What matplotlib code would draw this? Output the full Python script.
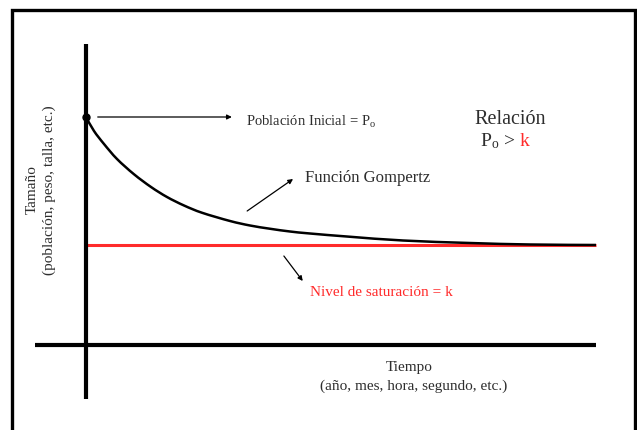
import matplotlib
matplotlib.use("Agg")
import matplotlib.pyplot as plt
from matplotlib.patches import Rectangle, PathPatch
from matplotlib.path import Path

plt.rcParams['font.family'] = ['Liberation Serif', 'DejaVu Serif']
plt.rcParams['mathtext.fontset'] = 'custom'
plt.rcParams['mathtext.rm'] = 'Liberation Serif'

# Data (time units, size units)
t_curve = [0.0, 0.157, 0.353, 0.608, 0.941, 1.275, 1.588, 1.922, 2.275, 2.824,
           3.216, 3.608, 4.0, 4.392, 5.176, 6.216, 7.53, 8.71, 10.0]
p_curve = [9.12, 8.56, 8.04, 7.44, 6.83, 6.32, 5.92, 5.58, 5.29, 4.96,
           4.78, 4.65, 4.54, 4.46, 4.33, 4.18, 4.08, 4.02, 4.0]
P0 = 9.12
k = 4.0
t_max = 10.0

label_p0 = "Población Inicial = $\\mathrm{P_o}$"
label_fun = "Función Gompertz"
label_k = "Nivel de saturación = k"
label_rel = "Relación"
ylabel_lines = ["Tamaño", "(población, peso, talla, etc.)"]
xlabel_lines = ["Tiempo", "(año, mes, hora, segundo, etc.)"]

TXT = '#2e2e2e'
RED = '#ff2b2b'

fig = plt.figure(figsize=(6.37, 4.31), dpi=100)
ax = fig.add_axes([0, 0, 1, 1])
ax.set_xlim(-86 / 51, (637 - 86) / 51)
ax.set_ylim((346 - 431) / 25, 346 / 25)
ax.axis('off')

# outer frame
fig.patches.append(Rectangle((11.5 / 637, -0.05), (634.5 - 11.5) / 637, 1.05 - 11 / 431,
                             transform=fig.transFigure, fill=False, lw=2.4,
                             edgecolor='black', zorder=0))

# axes
ax.plot([0, 0], [-2.16, 12.04], color='black', lw=3.0, solid_capstyle='butt', zorder=3)
ax.plot([-1.0, t_max], [0, 0], color='black', lw=3.0, solid_capstyle='butt', zorder=3)

# saturation line
ax.plot([0, t_max], [k, k], color=RED, lw=2.2, solid_capstyle='butt', zorder=2)

# Gompertz curve: smooth path through the read points (Catmull-Rom -> Bezier)
pts = list(zip(t_curve, p_curve))
n = len(pts)
verts = [pts[0]]
codes = [Path.MOVETO]
for i in range(n - 1):
    p_prev = pts[i - 1] if i > 0 else pts[i]
    p_a = pts[i]
    p_b = pts[i + 1]
    p_next = pts[i + 2] if i + 2 < n else pts[i + 1]
    c1 = (p_a[0] + (p_b[0] - p_prev[0]) / 6, p_a[1] + (p_b[1] - p_prev[1]) / 6)
    c2 = (p_b[0] - (p_next[0] - p_a[0]) / 6, p_b[1] - (p_next[1] - p_a[1]) / 6)
    verts += [c1, c2, p_b]
    codes += [Path.CURVE4] * 3
ax.add_patch(PathPatch(Path(verts, codes), facecolor='none', edgecolor='black',
                       lw=1.8, zorder=2.5))
ax.plot([0], [P0], 'o', color='black', ms=5, zorder=4)

arrow_kw = dict(arrowstyle='-|>', color='black', lw=0.9, mutation_scale=7,
                shrinkA=0, shrinkB=0)
ax.annotate('', xy=(2.86, P0), xytext=(0.23, P0), arrowprops=arrow_kw)
ax.annotate('', xy=(4.06, 6.64), xytext=(3.16, 5.36), arrowprops=arrow_kw)
ax.annotate('', xy=(4.25, 2.56), xytext=(3.88, 3.56), arrowprops=arrow_kw)

ax.text(3.14, 8.98, label_p0, fontsize=10.5, color=TXT, va='center', ha='left')
ax.text(4.29, 6.72, label_fun, fontsize=12, color=TXT, va='center', ha='left')
ax.text(4.39, 2.12, label_k, fontsize=11, color=RED, va='center', ha='left')
ax.text(8.31, 9.04, label_rel, fontsize=14.5, color=TXT, va='center', ha='center')
# P0 > k with red k
ax.text(8.42, 8.2, "$\\mathrm{P_o}$ >", fontsize=14, color=TXT, va='center', ha='right')
ax.text(8.5, 8.2, "k", fontsize=14, color=RED, va='center', ha='left')

ax.text((32 - 86) / 51, (346 - 190) / 25, ylabel_lines[0], rotation=90, fontsize=11,
        color=TXT, ha='center', va='center')
ax.text((49 - 86) / 51, (346 - 190) / 25, ylabel_lines[1], rotation=90, fontsize=11,
        color=TXT, ha='center', va='center')
ax.text((409 - 86) / 51, (346 - 368) / 25, xlabel_lines[0], fontsize=11,
        color=TXT, ha='center', va='center')
ax.text((414 - 86) / 51, (346 - 386) / 25, xlabel_lines[1], fontsize=11,
        color=TXT, ha='center', va='center')

fig.savefig('out.png', dpi=100)
